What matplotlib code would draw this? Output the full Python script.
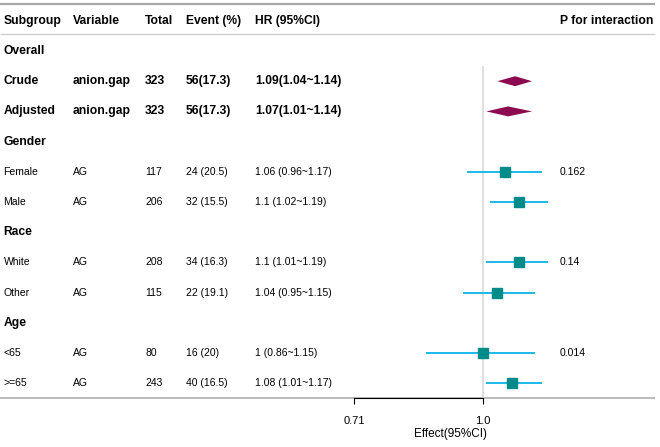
import numpy as np
import matplotlib
matplotlib.use("Agg")
import matplotlib.pyplot as plt

# ---------------- data ----------------
subgroups = ["Overall", "Crude", "Adjusted", "Gender", "Female", "Male",
             "Race", "White", "Other", "Age", "<65", ">=65"]
variables = ["", "anion.gap", "anion.gap", "", "AG", "AG", "", "AG", "AG", "", "AG", "AG"]
totals = ["", "323", "323", "", "117", "206", "", "208", "115", "", "80", "243"]
events = ["", "56(17.3)", "56(17.3)", "", "24 (20.5)", "32 (15.5)", "",
          "34 (16.3)", "22 (19.1)", "", "16 (20)", "40 (16.5)"]
hr_text = ["", "1.09(1.04~1.14)", "1.07(1.01~1.14)", "", "1.06 (0.96~1.17)",
           "1.1 (1.02~1.19)", "", "1.1 (1.01~1.19)", "1.04 (0.95~1.15)", "",
           "1 (0.86~1.15)", "1.08 (1.01~1.17)"]
p_interaction = ["", "", "", "", "0.162", "", "", "0.14", "", "", "0.014", ""]
est = [np.nan, 1.09, 1.07, np.nan, 1.06, 1.10, np.nan, 1.10, 1.04, np.nan, 1.00, 1.08]
lower = [np.nan, 1.04, 1.01, np.nan, 0.96, 1.02, np.nan, 1.01, 0.95, np.nan, 0.86, 1.01]
upper = [np.nan, 1.14, 1.14, np.nan, 1.17, 1.19, np.nan, 1.19, 1.15, np.nan, 1.15, 1.17]
summary_rows = [1, 2]          # drawn as diamonds
bold_rows = [0, 1, 2, 3, 6, 9]
headers = ["Subgroup", "Variable", "Total", "Event (%)", "HR (95%CI)"]
p_header = "P for interaction"
xticks = [0.71, 1.0]
xticklabels = ["0.71", "1.0"]
ref_value = 1.0

# ---------------- layout ----------------
W, H = 660, 447
ROW0, ROWH = 51.0, 30.2
FONT = "Liberation Sans"

def row_to_fig(r):
    return 1 - (ROW0 + ROWH * r) / H

fig = plt.figure(figsize=(W / 100, H / 100), dpi=100)
ax = fig.add_axes([0, 0, 1, 1])
ax.set_xlim(0, W)
ax.set_ylim((H - ROW0) / ROWH, -ROW0 / ROWH)
ax.axis("off")

col_x = [3.5, 72.5, 145, 186, 255]
p_x = 560

for x, h in zip(col_x, headers):
    ax.text(x, -1, h, fontsize=8.7, fontweight="bold", va="center", family=FONT)
ax.text(p_x, -1, p_header, fontsize=8.7, fontweight="bold", va="center", family=FONT)

for i in range(len(subgroups)):
    bold = i in bold_rows
    fs = 8.7 if bold else 7.5
    fw = "bold" if bold else "normal"
    vals = [subgroups[i], variables[i], totals[i], events[i], hr_text[i]]
    for x, v in zip(col_x, vals):
        if v:
            ax.text(x, i, v, fontsize=fs, fontweight=fw, va="center", family=FONT)
    if p_interaction[i]:
        ax.text(p_x, i, p_interaction[i], fontsize=7.5, va="center", family=FONT)

# table rules
ax.hlines(-1.55, 0, 655, color="#A8A8A8", lw=1.6)
ax.hlines(-0.55, 0, 655, color="#CACACA", lw=0.9)
ax.hlines(11.5, 0, 655, color="#B5B5B5", lw=1.3)

# ---------------- forest panel ----------------
x_ref_px, px_per_ln = 482.7, 375.8
fx0, fx1 = 345, 556
xlim = (np.exp((fx0 - x_ref_px) / px_per_ln), np.exp((fx1 - x_ref_px) / px_per_ln))
fax = fig.add_axes([fx0 / W, row_to_fig(11.5), (fx1 - fx0) / W,
                    row_to_fig(-0.5) - row_to_fig(11.5)])
fax.set_xscale("log")
fax.set_xlim(xlim)
fax.set_ylim(11.5, -0.5)
fax.patch.set_alpha(0)
for s in ["top", "right", "left"]:
    fax.spines[s].set_visible(False)
fax.spines["bottom"].set_bounds(xticks[0], xticks[-1])
fax.spines["bottom"].set_linewidth(0.8)
fax.set_yticks([])
fax.set_xticks(xticks)
fax.set_xticklabels(xticklabels, family=FONT)
fax.minorticks_off()
fax.tick_params(axis="x", length=4, width=0.8, pad=9, labelsize=8)
fax.set_xlabel("Effect(95%CI)", fontsize=8.5, labelpad=1, family=FONT)

fax.vlines(ref_value, 0.5, 11.5, color="#D9D9D9", lw=1.2, zorder=0)

for i in range(len(est)):
    if np.isnan(est[i]):
        continue
    if i in summary_rows:
        fax.fill([lower[i], est[i], upper[i], est[i]],
                 [i, i - 0.165, i, i + 0.165], color="#8B0A50", lw=0, zorder=3)
    else:
        fax.hlines(i, lower[i], upper[i], color="#1CB8EB", lw=1.4, zorder=2)
        fax.plot(est[i], i, "s", ms=7.3, color="#008B8B", mec="#008B8B", zorder=3)

fig.savefig("out.png", dpi=100)
